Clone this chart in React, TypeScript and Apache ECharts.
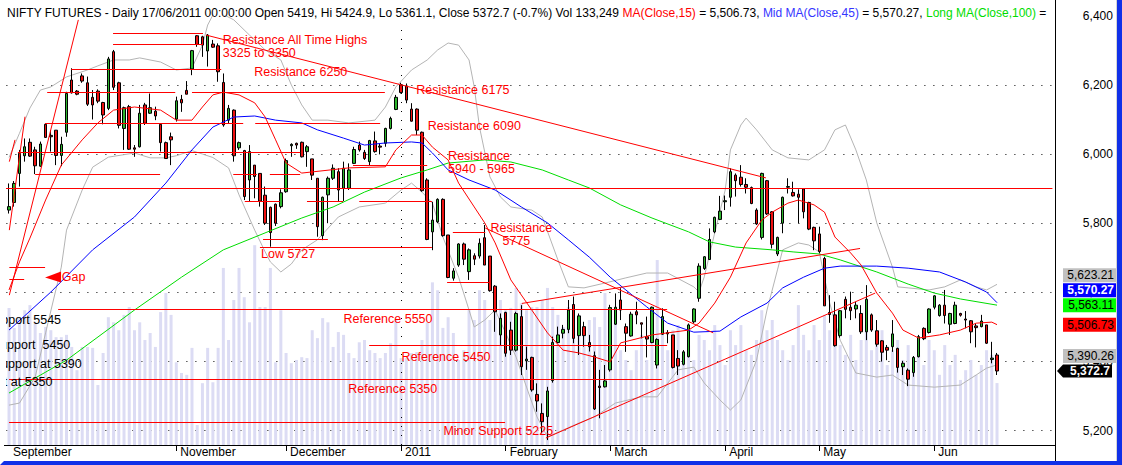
import React, { useEffect, useRef } from 'react';
import * as echarts from 'echarts';

const FONT = '"Liberation Sans", Arial, Helvetica, sans-serif';

// Daily candles [open, high, low, close], 16 Sep 2010 .. 17 Jun 2011
const ohlc: number[][] = [
  [5838,5915,5828,5848],[5860,5922,5848,5915],[5944,6012,5906,6002],[5995,6045,5978,6021],[6034,6045,5992,5994],
  [6012,6021,5942,5966],[5965,6036,5963,6029],[6086,6089,6047,6048],[6054,6069,6007,6050],[6069,6069,5968,5996],
  [5996,6050,5965,6028],[6063,6180,6050,6175],[6214,6248,6175,6177],[6182,6185,6170,6173],[6226,6233,6206,6211],
  [6206,6224,6139,6144],[6164,6185,6100,6142],[6182,6187,6147,6153],[6149,6151,6086,6113],[6132,6281,6127,6275],
  [6296,6301,6185,6193],[6206,6209,6074,6083],[6074,6137,6012,6134],[6137,6142,6012,6014],[6018,6026,5992,6014],
  [6021,6142,6019,6118],[6142,6148,6084,6089],[6118,6175,6116,6134],[6124,6137,6098,6110],[6086,6089,6007,6033],
  [6033,6036,5987,5987],[6050,6062,5968,6041],[6101,6166,6094,6154],[6158,6171,6122,6148],[6184,6211,6173,6173],
  [6246,6301,6228,6299],[6342,6344,6310,6317],[6339,6342,6281,6315],[6298,6347,6253,6344],[6318,6330,6307,6309],
  [6313,6320,6209,6238],[6207,6233,6079,6084],[6098,6142,6089,6132],[6127,6129,5978,5995],[6018,6036,6012,6033],
  [6010,6012,5867,5877],[5925,6026,5862,6007],[5968,5968,5872,5935],[5944,5944,5848,5864],[5881,5906,5795,5800],
  [5846,5848,5732,5773],[5855,5857,5792,5800],[5848,5898,5843,5888],[5891,5987,5888,5981],[6024,6031,5992,6028],
  [6031,6033,6015,6026],[6034,6036,5990,5992],[6007,6026,5963,6021],[5986,5986,5925,5939],[5930,5930,5761,5790],
  [5764,5877,5751,5875],[5882,5935,5800,5930],[5930,5970,5925,5959],[5949,5959,5864,5896],[5901,5978,5864,5959],
  [5901,5973,5896,5954],[5973,6021,5971,6013],[6026,6036,6007,6012],[6005,6012,5983,5987],[5978,6041,5968,6039],
  [6038,6065,6004,6007],[6023,6031,5999,6020],[6031,6076,6021,6074],[6074,6108,6071,6103],[6129,6171,6127,6164],
  [6200,6206,6175,6178],[6197,6204,6147,6156],[6130,6147,6094,6095],[6130,6132,6055,6069],[6063,6065,5891,5894],
  [5925,5930,5751,5753],[5775,5862,5722,5809],[5804,5872,5800,5869],[5869,5872,5761,5764],[5766,5766,5641,5643],
  [5641,5670,5634,5662],[5679,5742,5674,5740],[5740,5744,5679,5696],[5660,5727,5636,5723],[5706,5713,5679,5696],
  [5705,5756,5698,5742],[5758,5795,5679,5679],[5705,5705,5602,5605],[5618,5621,5486,5544],[5477,5539,5448,5525],
  [5542,5544,5414,5424],[5491,5515,5419,5433],[5433,5544,5429,5539],[5530,5563,5361,5385],[5402,5443,5376,5407],
  [5412,5414,5313,5318],[5305,5337,5255,5286],[5250,5279,5192,5226],[5241,5327,5173,5315],[5345,5472,5339,5455],
  [5455,5501,5453,5477],[5482,5506,5467,5493],[5493,5578,5482,5549],[5565,5588,5453,5467],[5475,5539,5419,5532],
  [5501,5515,5443,5475],[5455,5477,5429,5443],[5417,5429,5260,5263],[5329,5376,5236,5325],[5327,5390,5325,5344],
  [5376,5564,5371,5556],[5508,5597,5506,5557],[5578,5612,5520,5549],[5501,5510,5428,5482],[5474,5544,5472,5537],
  [5544,5573,5508,5535],[5512,5512,5467,5508],[5472,5530,5412,5465],[5455,5559,5453,5557],[5390,5467,5380,5464],
  [5479,5554,5477,5530],[5484,5491,5453,5480],[5477,5477,5380,5383],[5409,5433,5361,5387],[5392,5433,5389,5428],
  [5414,5510,5412,5506],[5515,5554,5510,5552],[5583,5684,5573,5676],[5669,5705,5665,5703],[5695,5785,5694,5753],
  [5775,5819,5771,5817],[5811,5879,5809,5835],[5862,5880,5838,5865],[5875,5959,5848,5949],[5939,5944,5877,5923],
  [5933,5968,5906,5912],[5912,5930,5886,5904],[5903,5906,5855,5857],[5838,5843,5795,5798],[5759,5946,5753,5944],
  [5923,5925,5824,5827],[5833,5835,5727,5739],[5711,5761,5705,5759],[5800,5877,5771,5875],[5904,5930,5886,5906],
  [5889,5920,5877,5879],[5884,5898,5800,5875],[5899,5901,5814,5833],[5860,5862,5780,5783],[5788,5790,5722,5749],
  [5769,5790,5713,5718],[5698,5703,5561,5561],[5542,5592,5512,5536],[5535,5573,5443,5446],[5475,5549,5469,5547],
  [5580,5588,5525,5551],[5557,5602,5520,5547],[5552,5573,5525,5563],[5539,5563,5480,5486],[5486,5621,5462,5580],
  [5535,5539,5486,5491],[5489,5520,5443,5450],[5460,5462,5400,5427],[5441,5448,5404,5433],[5443,5520,5428,5480],
  [5438,5440,5368,5383],[5385,5402,5361,5395],[5375,5380,5329,5349],[5368,5416,5356,5412],[5414,5477,5412,5472],
  [5496,5499,5462,5466],[5484,5554,5481,5552],[5557,5592,5551,5590],[5533,5566,5530,5563],[5563,5607,5510,5533],
  [5508,5541,5477,5539],[5510,5573,5508,5563],[5539,5541,5530,5534],[5523,5546,5496,5520],[5518,5520,5453,5486],
  [5503,5510,5441,5498],[5501,5535,5499,5517],[5506,5506,5451,5453],[5406,5457,5395,5410],[5419,5424.9,5361.1,5372.7],
];

// Daily volume, thousands of contracts
const volumeK: number[] = [
  295,252,273,290,301,264,241,254,247,232,232,237,211,161,211,211,209,129,198,275,
  264,247,280,297,247,264,226,241,211,286,327,280,178,155,151,209,43,133,209,135,
  209,381,226,312,381,318,264,430,297,297,381,178,290,198,
  176,183,189,187,247,230,273,264,211,243,237,198,187,221,226,204,198,187,198,219,
  269,187,187,198,200,226,264,350,333,252,275,241,183,204,290,269,333,312,269,338,
  312,290,295,338,305,290,297,297,312,338,297,280,254,297,254,280,254,269,275,254,
  327,275,262,204,183,
  161,204,237,183,258,398,237,204,247,258,194,215,183,237,226,204,258,215,172,247,
  215,258,204,194,226,290,247,269,226,204,183,215,301,237,204,258,226,280,247,258,
  215,194,237,183,226,258,204,215,247,172,204,226,183,215,161,194,172,226,204,151,
  215,172,194,140,161,183,151,172,204,194,133.249,
];

const SLOTS = 200;
const monthStarts = [0, 32, 53, 75, 95, 115, 137, 155, 177];
const monthNames = ['September', 'November', 'December', '2011', 'February', 'March', 'April', 'May', 'Jun'];
const yearStart = 75;

// Indicator lines: [candle index, value]
const ma15: number[][] = [
  [0,5607],[2,5688],[4,5757],[7,5867],[10,5968],[14,6041],[17,6090],[20,6127],[24,6136],[29,6127],[32,6098],
  [35,6098],[37,6136],[39,6171],[41,6179],[44,6171],[47,6148],[49,6107],[51,6041],[53,5974],[56,5945],[65,5960],
  [72,5963],[74,6012],[77,6055],[79,6055],[81,6020],[84,5983],[86,5916],[89,5847],[91,5801],[93,5743],[96,5636],
  [100,5549],[103,5483],[106,5433],[109,5425],[112,5413],[115,5399],[117,5454],[123,5477],[130,5491],[132,5511],
  [135,5569],[138,5644],[141,5743],[144,5809],[146,5832],[149,5858],[151,5867],[154,5853],[156,5832],[158,5760],
  [161,5714],[163,5679],[166,5598],[169,5540],[171,5491],[174,5468],[178,5477],[182,5491],[185,5511],[188,5514],
  [189,5506.73],
];
const ma45: number[][] = [
  [0,5491],[8,5601],[16,5723],[24,5818],[30,5916],[35,6012],[39,6078],[43,6107],[47,6110],[51,6098],[56,6090],
  [59,6070],[64,6046],[68,6026],[72,6032],[77,6035],[79,6032],[81,6003],[84,5954],[88,5925],[93,5896],[98,5847],
  [103,5801],[107,5752],[111,5702],[115,5644],[118,5607],[122,5558],[126,5511],[131,5485],[136,5488],[140,5529],
  [145,5569],[148,5613],[152,5644],[156,5670],[159,5676],[166,5676],[172,5670],[178,5659],[183,5630],[187,5601],
  [189,5570.27],
];
const ma100: number[][] = [
  [0,5309],[11,5404],[24,5549],[33,5644],[41,5723],[56,5815],[62,5847],[68,5890],[75,5931],[80,5954],[84,5974],
  [91,5983],[96,5977],[102,5954],[107,5925],[111,5902],[117,5853],[123,5815],[130,5775],[134,5746],[139,5731],
  [146,5723],[150,5717],[155,5711],[159,5694],[166,5659],[172,5624],[177,5598],[182,5581],[189,5563.11],
];
const bbUpper: number[][] = [
  [0,5990],[2,6060],[4,6133],[6,6185],[8,6194],[11,6223],[15,6243],[17,6255],[20,6272],[23,6272],[25,6278],
  [29,6266],[32,6243],[35,6249],[37,6315],[38,6373],[39,6402],[40,6411],[43,6388],[46,6344],[49,6301],[52,6272],
  [54,6200],[56,6142],[58,6098],[61,6098],[65,6090],[70,6098],[72,6136],[74,6194],[77,6243],[80,6272],[82,6301],
  [84,6321],[86,6315],[88,6272],[89,6194],[90,6078],[92,5934],[94,5876],[96,5847],[100,5838],[102,5818],[105,5694],
  [107,5616],[110,5613],[114,5627],[118,5642],[122,5656],[126,5656],[131,5616],[132,5601],[133,5645],[135,5772],
  [137,5896],[138,6012],[140,6084],[141,6104],[143,6070],[146,6012],[149,5989],[153,5983],[156,6012],[158,6070],
  [160,6084],[162,6012],[164,5925],[166,5801],[169,5673],[170,5616],[172,5613],[176,5607],[179,5616],[182,5636],
  [185,5616],[187,5607],[189,5623.21],
];
const bbLower: number[][] = [
  [0,5274],[2,5280],[5,5355],[7,5483],[10,5673],[11,5780],[14,5896],[16,5962],[19,5991],[24,6003],[27,5989],
  [30,5989],[32,5995],[35,6010],[37,6000],[39,5990],[42,5960],[44,5882],[47,5780],[49,5717],[50,5688],[52,5659],
  [54,5682],[56,5723],[59,5752],[63,5818],[67,5847],[72,5858],[75,5896],[77,5916],[79,5890],[81,5858],[83,5760],
  [86,5644],[88,5549],[89,5500],[91,5520],[93,5549],[95,5483],[97,5413],[99,5326],[101,5240],[103,5182],[106,5202],
  [109,5222],[112,5240],[116,5280],[121,5298],[124,5298],[128,5376],[131,5384],[133,5338],[136,5289],[138,5260],
  [140,5289],[143,5404],[145,5549],[147,5665],[148,5723],[151,5743],[153,5737],[155,5717],[157,5569],[159,5462],
  [162,5367],[166,5355],[169,5361],[172,5332],[177,5326],[182,5332],[185,5361],[187,5381],[189,5390.26],
];

// Hand-drawn study lines: [from index, from value, to index, to value]
const studyLines: number[][] = [
  [0.06,5592,13.26,6388],[0.06,5780,3.06,6108],[0.06,5978,1.15,6041],
  [19.9,6349,37.1,6349],[19.9,6317,37.1,6317],[11.9,6246,40.6,6246],
  [7.3,6179,31.8,6179],[35.0,6179,71.9,6179],[6.9,6091,44.8,6091],[47.1,6091,71.0,6091],
  [1.7,6005,55.7,6005],[5.0,5942,28.9,5942],[42.9,5942,47.4,5942],[49.9,5942,55.7,5942],
  [-0.6,5901,199.6,5901],
  [45.1,5864,51.8,5864],[57.0,5864,63.9,5864],[67.0,5864,80.9,5864],
  [48.6,5753,61.0,5753],[48.0,5732,80.9,5732],[65.8,5968,80.0,5968],
  [84.9,5776,91.1,5776],[83.8,5629,92.0,5629],
  [9.4,5551,125.9,5551],[68.9,5449,125.9,5449],[0,5349,124.9,5349],[0,5224,94.9,5224],
  [0.06,5674,6.9,5674],[0.06,5638,2.9,5638],
  [37.7,6344,144.8,5931],[91.1,5786,134.7,5483],[98.1,5568,162.8,5727],[102.7,5179,165.7,5598],
];
// [index, value, text]
const redNotes: [number, number, string][] = [
  [40.9,6330,'Resistance All Time Highs'],[40.9,6292,'3325 to 3350'],[46.9,6238,'Resistance 6250'],
  [77.9,6185,'Resistance 6175'],[80.1,6082,'Resistance 6090'],[84.0,5994,'Resistance'],[84.0,5957,'5940 - 5965'],
  [92.1,5786,'Resistance'],[94.4,5749,'5775'],[48.2,5711,'Low 5727'],[10.1,5645,'Gap'],
  [64.0,5523,'Reference 5550'],[75.1,5414,'Reference 5450'],[64.9,5320,'Reference 5350'],[83.1,5199,'Minor Support 5225'],
];
const blackNotes: [number, number, string][] = [
  [-4.4,5520,'Support 5545'],[-3.3,5448,'Support  5450'],[-3.1,5393,'Support at 5390'],[-8.7,5342,'Support at 5350'],
];
const gapArrow = [6.9, 5643];

const cats = Array.from({ length: SLOTS }, (_, i) => String(i));
const lastOf = (a: number[][]) => a[a.length - 1][1];

export default function App() {
  const ref = useRef<HTMLDivElement>(null);
  useEffect(() => {
    const chart = echarts.init(ref.current!, null, { renderer: 'svg' });
    const n = ohlc.length;
    const [o, h, l, c] = ohlc[n - 1];
    const prevC = ohlc[n - 2][3];
    const pct = (((c - prevC) / prevC) * 100).toFixed(1);
    const vol = Math.round(volumeK[n - 1] * 1000).toLocaleString('en-US');
    const f2 = (v: number) => v.toLocaleString('en-US', { minimumFractionDigits: 2, maximumFractionDigits: 2 });
    const titleText =
      `{k|NIFTY FUTURES - Daily 17/06/2011 00:00:00 Open ${o}, Hi ${h}, Lo ${l}, Close ${c} (${pct}%) Vol ${vol} }` +
      `{r|MA(Close,15)}{k| = ${f2(lastOf(ma15))}, }{b|Mid MA(Close,45)}{k| = ${f2(lastOf(ma45))}, }` +
      `{g|Long MA(Close,100)}{k| =}`;
    const rs = (color: string) => ({ color, fontSize: 12, fontFamily: FONT, lineHeight: 14 });

    const gridLeft = 6.4;
    const gridWidth = 1045.5;

    const option: any = {
      animation: false,
      backgroundColor: '#ffffff',
      title: {
        text: titleText, left: 7, top: 6, padding: 0,
        textStyle: { fontSize: 12, fontFamily: FONT, fontWeight: 'normal', color: '#000', lineHeight: 14,
          rich: { k: rs('#000000'), r: rs('#ff0000'), b: rs('#3535ff'), g: rs('#00dd00') } },
      },
      grid: [
        { left: gridLeft, width: gridWidth, top: 15.7, height: 484.2 },
        { left: gridLeft, width: gridWidth, top: 30, height: 415 },
      ],
      xAxis: [
        { type: 'category', gridIndex: 0, data: cats, show: false },
        {
          type: 'category', gridIndex: 1, data: cats,
          axisLine: { show: false },
          axisTick: { show: true, alignWithLabel: true, length: 6, lineStyle: { color: '#000' },
            interval: (i: number) => i !== 0 && monthStarts.includes(i) },
          axisLabel: {
            interval: (i: number) => monthStarts.includes(i),
            formatter: (_v: string, i: number) => { const k = monthStarts.indexOf(i); return k >= 0 ? monthNames[k] : ''; },
            align: 'left', padding: [0, 0, 0, 4], margin: 0, lineHeight: 14,
            color: '#000', fontSize: 12, fontFamily: FONT,
          },
          splitLine: { show: false },
        },
      ],
      yAxis: [
        {
          type: 'value', gridIndex: 0, position: 'right', min: 5000, max: 6400, interval: 200,
          axisLine: { show: false }, axisTick: { show: false },
          axisLabel: { align: 'right', margin: 61, color: '#000', fontSize: 12, fontFamily: FONT,
            formatter: (v: number) => (v < 5200 ? '' : v.toLocaleString('en-US')) },
          splitLine: { show: true, lineStyle: { width: 1, type: [1, 8],
            color: ['rgba(0,0,0,0)', '#000', '#000', '#000', '#000', '#000', '#000', 'rgba(0,0,0,0)'] } },
        },
        { type: 'value', gridIndex: 1, min: 0, max: 893, show: false, splitLine: { show: false } },
      ],
      series: [
        {
          name: 'Volume', type: 'bar', xAxisIndex: 1, yAxisIndex: 1, data: volumeK, barWidth: 3,
          itemStyle: { color: '#dcdcf4' }, z: 1, silent: true,
          markLine: { silent: true, symbol: 'none', label: { show: false },
            lineStyle: { color: '#000', width: 1, type: [1, 8] }, data: [{ xAxis: yearStart }] },
        },
        { name: 'BB Upper', type: 'line', data: bbUpper, showSymbol: false, lineStyle: { color: '#b4b4b4', width: 1 }, z: 2, silent: true },
        { name: 'BB Lower', type: 'line', data: bbLower, showSymbol: false, lineStyle: { color: '#b4b4b4', width: 1 }, z: 2, silent: true },
        {
          name: 'NIFTY', type: 'candlestick', xAxisIndex: 0, yAxisIndex: 0, barWidth: 3, z: 3,
          data: ohlc.map(([oo, hh, ll, cc]) => [oo, cc, ll, hh]),
          itemStyle: { color: '#2db52d', color0: '#ee1111', borderColor: '#000', borderColor0: '#000', borderWidth: 1 },
        },
        { name: 'Long MA(Close,100)', type: 'line', data: ma100, showSymbol: false, lineStyle: { color: '#00dd00', width: 1 }, z: 4, silent: true },
        { name: 'Mid MA(Close,45)', type: 'line', data: ma45, showSymbol: false, lineStyle: { color: '#0000ff', width: 1 }, z: 4, silent: true },
        { name: 'MA(Close,15)', type: 'line', data: ma15, showSymbol: false, lineStyle: { color: '#ff0000', width: 1 }, z: 4, silent: true },
        {
          name: 'Studies', type: 'custom', xAxisIndex: 0, yAxisIndex: 0, clip: true, z: 5, silent: true,
          data: [[0, 5500]],
          renderItem: (_p: any, api: any) => {
            const bw = api.size([1, 0])[0];
            const px = (f: number, v: number) => { const p = api.coord([0, v]); return [p[0] + f * bw, p[1]]; };
            const children: any[] = [];
            studyLines.forEach(([fa, va, fb, vb]) => {
              const a = px(fa, va); const b = px(fb, vb);
              const flat = va === vb;
              const y1 = flat ? Math.round(a[1]) + 0.5 : a[1];
              const y2 = flat ? y1 : b[1];
              children.push({ type: 'line', shape: { x1: a[0], y1, x2: b[0], y2 }, style: { stroke: '#ff0000', lineWidth: 1 } });
            });
            const tip = px(gapArrow[0], gapArrow[1]);
            children.push({ type: 'polygon', shape: { points: [[tip[0], tip[1]], [tip[0] + 16, tip[1] - 6], [tip[0] + 16, tip[1] + 5]] },
              style: { fill: '#ff0000' } });
            redNotes.forEach(([f, v, t]) => {
              const p = px(f, v);
              children.push({ type: 'text', x: p[0], y: p[1], style: { text: t, fill: '#ff0000', fontSize: 12.5, fontFamily: FONT, align: 'left', verticalAlign: 'middle' } });
            });
            blackNotes.forEach(([f, v, t]) => {
              const p = px(f, v);
              children.push({ type: 'text', x: p[0], y: p[1], style: { text: t, fill: '#000000', fontSize: 12.5, fontFamily: FONT, align: 'left', verticalAlign: 'middle' } });
            });
            return { type: 'group', children };
          },
        },
      ],
    };
    chart.setOption(option);

    // value tags on the price scale, stacked so they do not overlap
    const tags = [
      { v: lastOf(bbUpper), bg: '#c0c0c0', fg: '#000', bold: false },
      { v: lastOf(ma45), bg: '#0000ff', fg: '#fff', bold: true },
      { v: lastOf(ma100), bg: '#00ff00', fg: '#000', bold: false },
      { v: lastOf(ma15), bg: '#ff0000', fg: '#000', bold: false },
      { v: lastOf(bbLower), bg: '#c0c0c0', fg: '#000', bold: false },
      { v: c, bg: '#000000', fg: '#fff', bold: true, arrow: true },
    ].sort((a, b) => a.v - b.v);
    let prev = Infinity;
    const graphics: any[] = [
      { type: 'line', z: 100, shape: { x1: 4, y1: 445.5, x2: 1055, y2: 445.5 }, style: { stroke: '#000', lineWidth: 1 } },
      { type: 'line', z: 100, shape: { x1: 1055.5, y1: 0, x2: 1055.5, y2: 461 }, style: { stroke: '#000', lineWidth: 1 } },
      { type: 'rect', z: 100, shape: { x: 1116, y: 0, width: 1, height: 461 }, style: { fill: '#d4d4d4' } },
      { type: 'rect', z: 100, shape: { x: 1117, y: 0, width: 5, height: 465 }, style: { fill: '#1030e8' } },
      { type: 'polygon', z: 100, shape: { points: [[0, 465], [4, 461], [1122, 461], [1122, 465]] }, style: { fill: '#1030e8' } },
      { type: 'rect', z: 100, shape: { x: 0, y: 465, width: 1122, height: 60 }, style: { fill: '#ffffff' } },
    ];
    tags.forEach((t: any) => {
      let y = chart.convertToPixel({ yAxisIndex: 0 }, t.v) as number;
      if (y > prev - 15) y = prev - 15;
      prev = y;
      const label = t.v.toLocaleString('en-US', { minimumFractionDigits: t.arrow ? 1 : 2, maximumFractionDigits: 2 });
      const ts = { fill: t.fg, fontSize: 12, lineHeight: 12, fontFamily: FONT, verticalAlign: 'middle', align: 'right' };
      if (t.arrow) {
        graphics.push({ type: 'polygon', z: 101, shape: { points: [[1057, y], [1063, y - 6.5], [1112, y - 6.5], [1112, y + 6.5], [1063, y + 6.5]] }, style: { fill: t.bg } });
        graphics.push({ type: 'text', z: 102, x: 1110, y, style: { ...ts, text: label, fontWeight: 'bold' } });
      } else {
        graphics.push({ type: 'rect', z: 101, shape: { x: 1063, y: y - 7, width: 53, height: 14 }, style: { fill: t.bg } });
        graphics.push({ type: 'text', z: 102, x: 1114, y, style: { ...ts, text: label, fontWeight: t.bold ? 'bold' : 'normal' } });
      }
    });
    chart.setOption({ graphic: graphics });
    return () => chart.dispose();
  }, []);
  return (
    <div style={{ position: 'absolute', left: 0, top: 0, width: 1122, height: 465, overflow: 'hidden' }}>
      <div ref={ref} style={{ width: 1122, height: 525 }} />
    </div>
  );
}
